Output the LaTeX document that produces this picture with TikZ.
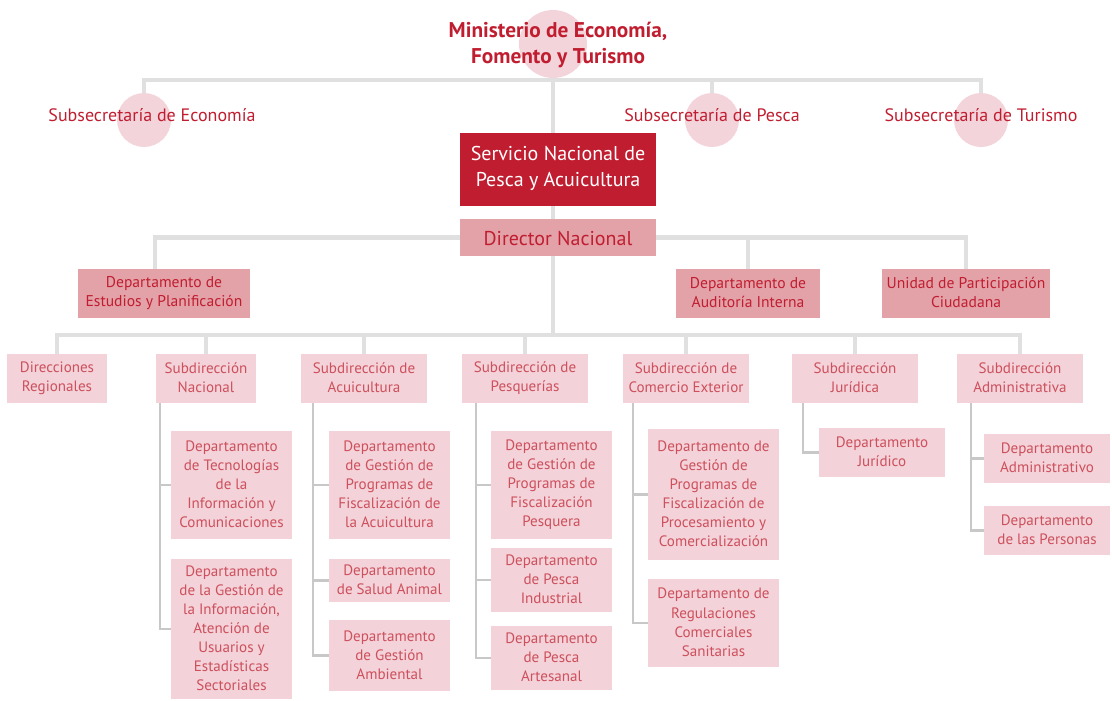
\documentclass[tikz,border=0pt]{standalone}
\usepackage{fontspec}
\setmainfont{PT Sans}
\usetikzlibrary{backgrounds}
\definecolor{crim}{RGB}{192,30,48}
\definecolor{servfill}{RGB}{192,30,48}
\definecolor{midpink}{RGB}{227,161,168}
\definecolor{lightpink}{RGB}{243,210,217}
\definecolor{circpink}{RGB}{244,212,219}
\definecolor{ltext}{RGB}{205,80,92}
\definecolor{busgray}{RGB}{224,224,224}
\definecolor{treegray}{RGB}{200,200,200}
\newcommand\mystrut[1]{\rule[-#1\baselineskip]{0pt}{\baselineskip}}
\newcommand\bx[7]{\node[#6, minimum width={(#4-#2)*0.75pt}, minimum height={(#5-#3)*0.75pt}] (#1) at ({(#2+#4)/2},{(#3+#5)/2}) {#7};}
\tikzset{
  boxbase/.style={rectangle, inner sep=0pt, align=center, execute at begin node={\mystrut{#1}}, execute at end node={\mystrut{#1}}},
  servbox/.style={boxbase=0.25, fill=servfill, text=white, font=\fontsize{15}{19}\selectfont},
  dirbox/.style={boxbase=0.2, fill=midpink, text=crim, font=\fontsize{15}{19}\selectfont},
  lvtwo/.style={boxbase=0.08, fill=midpink, text=crim, font=\fontsize{11.7}{14.3}\selectfont},
  lvthree/.style={boxbase=0.08, fill=lightpink, text=ltext, font=\fontsize{11.3}{14.3}\selectfont},
  circ/.style={circle, fill=circpink, inner sep=0pt},
  ctext/.style={text=crim, font=\fontsize{13.5}{16}\selectfont, inner sep=0pt},
  topline/.style={draw=busgray, line width=2.4pt},
  trunk/.style={draw=busgray, line width=3.2pt},
  dbus/.style={draw=busgray, line width=3.6pt},
  lbus/.style={draw=busgray, line width=2.4pt},
  tline/.style={draw=treegray, line width=2.2pt},
}
\begin{document}
\begin{tikzpicture}[x=0.75pt,y=-0.75pt]
\useasboundingbox (0,0) rectangle (1112,700);
% circles
\node[circ, minimum size=51pt] (min) at (553,44) {};
\node[circ, minimum size=40.5pt] (ce) at (144,120) {};
\node[circ, minimum size=40.5pt] (cp) at (712,120) {};
\node[circ, minimum size=40.5pt] (ct) at (981,120) {};
% boxes top
\bx{serv}{460}{133}{656}{206}{servbox}{Servicio Nacional de\\Pesca y Acuicultura}
\bx{dir}{460}{219}{656}{256}{dirbox}{Director Nacional}
\bx{de}{78}{269}{250}{318}{lvtwo}{Departamento de\\Estudios y Planificación}
\bx{au}{676}{269}{820}{318}{lvtwo}{Departamento de\\Auditoría Interna}
\bx{up}{882}{269}{1050}{318}{lvtwo}{Unidad de Participación\\Ciudadana}
% level 3
\bx{dr}{7}{354}{107}{403}{lvthree}{Direcciones\\Regionales}
\bx{sn}{156}{354}{256}{403}{lvthree}{Subdirección\\Nacional}
\bx{sa}{301}{354}{427}{403}{lvthree}{Subdirección de\\Acuicultura}
\bx{sp}{462}{354}{588}{403}{lvthree}{Subdirección de\\Pesquerías}
\bx{sc}{623}{354}{749}{403}{lvthree}{Subdirección de\\Comercio Exterior}
\bx{sj}{792}{354}{918}{403}{lvthree}{Subdirección\\Jurídica}
\bx{sad}{957}{354}{1083}{403}{lvthree}{Subdirección\\Administrativa}
% departments
\bx{n1}{171}{431}{292}{539}{lvthree}{Departamento\\de Tecnologías\\de la\\Información y\\Comunicaciones}
\bx{n2}{171}{559}{292}{699}{lvthree}{Departamento\\de la Gestión de\\la Información,\\Atención de\\Usuarios y\\Estadísticas\\Sectoriales}
\bx{a1}{329}{431}{450}{539}{lvthree}{Departamento\\de Gestión de\\Programas de\\Fiscalización de\\la Acuicultura}
\bx{a2}{329}{559}{450}{602}{lvthree}{Departamento\\de Salud Animal}
\bx{a3}{329}{620}{450}{691}{lvthree}{Departamento\\de Gestión\\Ambiental}
\bx{p1}{491}{431}{612}{539}{lvthree}{Departamento\\de Gestión de\\Programas de\\Fiscalización\\Pesquera}
\bx{p2}{491}{548}{612}{612}{lvthree}{Departamento\\de Pesca\\Industrial}
\bx{p3}{491}{626}{612}{690}{lvthree}{Departamento\\de Pesca\\Artesanal}
\bx{c1}{648}{429}{779}{560}{lvthree}{Departamento de\\Gestión de\\Programas de\\Fiscalización de\\Procesamiento y\\Comercialización}
\bx{c2}{648}{579}{779}{667}{lvthree}{Departamento de\\Regulaciones\\Comerciales\\Sanitarias}
\bx{j1}{819}{428}{945}{477}{lvthree}{Departamento\\Jurídico}
\bx{ad1}{984}{434}{1110}{483}{lvthree}{Departamento\\Administrativo}
\bx{ad2}{984}{506}{1110}{555}{lvthree}{Departamento\\de las Personas}
% connectors on background
\coordinate (tb) at (553,80);
\coordinate (lb) at (553,335);
\coordinate (xde) at (155,0);
\coordinate (xn) at (160,0);
\coordinate (xa) at (313,0);
\coordinate (xp) at (476,0);
\coordinate (xc) at (633,0);
\coordinate (xj) at (803,0);
\coordinate (xd) at (971,0);
\begin{scope}[on background layer]
\draw[topline] (ce.north) |- (tb) -| (ct.north);
\draw[topline] (cp.north) -- (cp.north |- tb);
\draw[trunk] (min.south) -- (lb);
% director bus
\draw[dbus] (de.north -| xde) |- (dir.west);
\draw[dbus] (dir.east) -| (up.north);
\draw[dbus] (au.north) -- (au.north |- dir.east);
% lower bus
\draw[lbus] (dr.north) |- (lb) -| (sad.north);
\foreach \s in {sn,sa,sp,sc,sj} \draw[lbus] (\s.north) -- (\s.north |- lb);
% trees
\draw[tline] (sn.south -| xn) |- (n2.west);
\draw[tline] (n1.west) -- (n1.west -| xn);
\draw[tline] (sa.south -| xa) |- (a3.west);
\draw[tline] (a1.west) -- (a1.west -| xa);
\draw[tline] (a2.west) -- (a2.west -| xa);
\draw[tline] (sp.south -| xp) |- (p3.west);
\draw[tline] (p1.west) -- (p1.west -| xp);
\draw[tline] (p2.west) -- (p2.west -| xp);
\draw[tline] (sc.south -| xc) |- (c2.west);
\draw[tline] (c1.west) -- (c1.west -| xc);
\draw[tline] (sj.south -| xj) |- (j1.west);
\draw[tline] (sad.south -| xd) |- (ad2.west);
\draw[tline] (ad1.west) -- (ad1.west -| xd);
\end{scope}
% texts over circles
\node[ctext, align=center, font=\fontsize{16}{19.5}\selectfont\bfseries] (mt) at (558,45) {Ministerio de Economía,\\Fomento y Turismo};
\node[ctext] (te) at (152,115) {Subsecretaría de Economía};
\node[ctext] (tp) at (712,115) {Subsecretaría de Pesca};
\node[ctext] (tt) at (981,115) {Subsecretaría de Turismo};
\end{tikzpicture}
\end{document}
